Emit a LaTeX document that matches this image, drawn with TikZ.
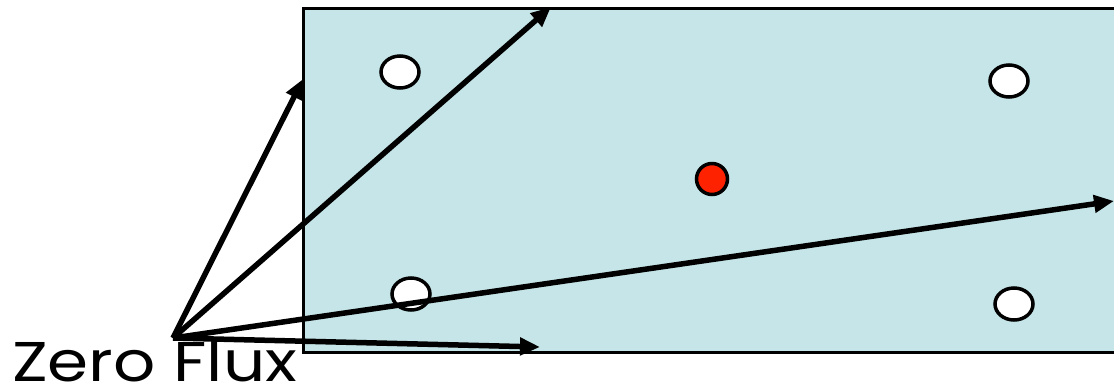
\documentclass[tikz,border=0pt]{standalone}
\usepackage{fontspec}
\setmainfont{Poppins}
\usetikzlibrary{arrows.meta,shapes.geometric}
\definecolor{boxfill}{RGB}{197,229,232}
\definecolor{dotred}{RGB}{255,34,0}
\tikzset{
  px/.style={x=1pt,y=-1pt},
  flux/.style={line width=5.5pt,-{Triangle[length=20pt,width=17pt]}},
  hole/.style={draw=black,line width=3.5pt,fill=white,ellipse,minimum width=38pt,minimum height=32pt,inner sep=0pt},
  src/.style={draw=black,line width=3.5pt,fill=dotred,circle,minimum size=31pt,inner sep=0pt},
  lbl/.style={font=\fontsize{56}{64}\selectfont,inner sep=0pt,anchor=base west,xscale=1.18}
}
\begin{document}
\begin{tikzpicture}[px]
\clip (0,0) rectangle (1114,391);
\fill[white] (0,0) rectangle (1114,391);
\draw[fill=boxfill,line width=3pt] (303,8) rectangle (1130,352);
\node[hole] (h1) at (400,72) {};
\node[hole] (h2) at (1009,81) {};
\node[hole] (h3) at (411,294) {};
\node[hole] (h4) at (1014,304) {};
\node[src] (s) at (712,179) {};
\coordinate (o) at (173,338);
\coordinate (t1) at (303,79);
\coordinate (t2) at (551,7);
\coordinate (t3) at (1114,201);
\coordinate (t4) at (540,347);
\draw[flux] (o) -- (t1);
\draw[flux] (o) -- (t2);
\draw[flux] (o) -- (t3);
\draw[flux] (o) -- (t4);
\node[lbl] (z) at (12,381) {Zero Flux};
\end{tikzpicture}
\end{document}
